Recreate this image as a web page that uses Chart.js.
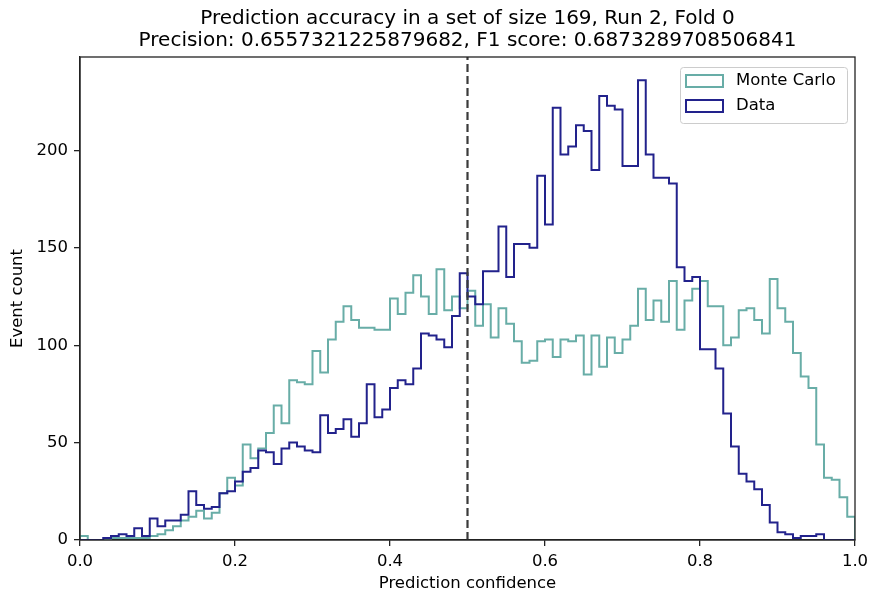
<!DOCTYPE html>
<html>
<head>
<meta charset="utf-8">
<title>Prediction accuracy</title>
<script src="https://cdn.jsdelivr.net/npm/chart.js@4.4.1/dist/chart.umd.min.js"></script>
<style>
  html, body { margin: 0; padding: 0; background: #fff; }
  #wrap { width: 871px; height: 596px; }
</style>
</head>
<body>
<div id="wrap"><canvas id="chart" width="871" height="596"></canvas></div>
<script>
const histMin = 0.0;
const histMax = 1.0;
const threshold = 0.5;
const yMax = 248;

const titleLines = [
  "Prediction accuracy in a set of size 169, Run 2, Fold 0",
  "Precision: 0.6557321225879682, F1 score: 0.6873289708506841",
];

const xTicks = [0.0, 0.2, 0.4, 0.6, 0.8, 1.0];
const yTicks = [0, 50, 100, 150, 200];

// counts per bin, 100 bins between 0 and 1
const monteCarloCounts = [
  2, 0, 0, 0, 1, 1, 1, 1, 1, 2,
  3, 5, 7, 10, 12, 15, 11, 14, 24, 32,
  28, 49, 42, 47, 55, 69, 60, 82, 81, 80,
  97, 86, 103, 112, 120, 113, 109, 109, 108, 108,
  124, 116, 127, 136, 125, 116, 139, 118, 125, 119,
  128, 110, 121, 104, 119, 111, 102, 91, 92, 102,
  103, 94, 103, 102, 105, 85, 105, 89, 104, 96,
  103, 110, 129, 113, 123, 112, 133, 108, 123, 129,
  133, 120, 120, 100, 104, 118, 119, 113, 106, 134,
  119, 112, 96, 84, 78, 49, 32, 31, 22, 12,
];

const dataCounts = [
  0, 0, 0, 1, 2, 3, 2, 6, 2, 11,
  7, 10, 10, 13, 25, 18, 16, 17, 24, 25,
  30, 35, 37, 46, 45, 39, 47, 50, 48, 46,
  45, 64, 55, 57, 62, 53, 60, 80, 63, 67,
  78, 82, 80, 88, 106, 105, 103, 99, 115, 137,
  125, 121, 138, 138, 161, 135, 152, 152, 150, 187,
  162, 222, 198, 202, 213, 210, 190, 228, 223, 221,
  192, 192, 236, 198, 186, 186, 183, 140, 133, 135,
  98, 98, 88, 65, 48, 34, 30, 26, 18, 9,
  4, 3, 1, 2, 2, 3, 0, 0, 0, 0,
];

const seriesNames = ["Monte Carlo", "Data"];
const seriesColors = ["#68ada7", "#22228c"];

const FONT = "'DejaVu Sans', 'Liberation Sans', sans-serif";

// outline of a step histogram: left edge of each bin, closed to zero at both ends
function stepOutline(counts) {
  const w = (histMax - histMin) / counts.length;
  const pts = [{ x: histMin, y: 0 }];
  counts.forEach((c, i) => pts.push({ x: histMin + i * w, y: c }));
  pts.push({ x: histMax, y: 0 });
  return pts;
}

const framePlugin = {
  id: "frame",
  afterDraw(chart) {
    const { ctx, chartArea: a } = chart;
    ctx.save();
    ctx.strokeStyle = "#222";
    ctx.lineWidth = 1.3;
    ctx.strokeRect(a.left, a.top, a.right - a.left, a.bottom - a.top);
    ctx.restore();
  },
};

const legendPlugin = {
  id: "boxLegend",
  afterDraw(chart) {
    const { ctx, chartArea: a } = chart;
    const boxW = 167, boxH = 56;
    const x = a.right - 8 - boxW;
    const y = a.top + 10;
    ctx.save();
    ctx.fillStyle = "rgba(255,255,255,0.85)";
    ctx.strokeStyle = "#cccccc";
    ctx.lineWidth = 1;
    ctx.beginPath();
    ctx.roundRect(x + 0.5, y + 0.5, boxW, boxH, 3);
    ctx.fill();
    ctx.stroke();
    ctx.font = "16.5px " + FONT;
    ctx.textBaseline = "middle";
    ctx.fillStyle = "#000";
    seriesNames.forEach((name, i) => {
      const cy = y + 14 + i * 25;
      ctx.strokeStyle = seriesColors[i];
      ctx.lineWidth = 2;
      ctx.strokeRect(x + 6, cy - 6, 37, 12);
      ctx.fillText(name, x + 56, cy);
    });
    ctx.restore();
  },
};

const ctx = document.getElementById("chart").getContext("2d");

new Chart(ctx, {
  type: "line",
  data: {
    datasets: [
      {
        label: "threshold",
        data: [{ x: threshold, y: 0 }, { x: threshold, y: yMax }],
        borderColor: "#3a3a3a",
        borderWidth: 2.2,
        borderDash: [8, 4],
        pointRadius: 0,
        order: 0,
      },
      {
        label: seriesNames[1],
        data: stepOutline(dataCounts),
        borderColor: seriesColors[1],
        backgroundColor: "rgba(0,0,0,0)",
        borderWidth: 2,
        stepped: true,
        pointRadius: 0,
        fill: false,
        order: 1,
      },
      {
        label: seriesNames[0],
        data: stepOutline(monteCarloCounts),
        borderColor: seriesColors[0],
        backgroundColor: "rgba(0,0,0,0)",
        borderWidth: 2,
        stepped: true,
        pointRadius: 0,
        fill: false,
        order: 2,
      },
    ],
  },
  options: {
    responsive: false,
    animation: false,
    events: [],
    layout: { padding: { left: 0, right: 16, top: 0, bottom: 0 } },
    plugins: {
      legend: { display: false },
      tooltip: { enabled: false },
      title: {
        display: true,
        fullSize: false,
        text: titleLines,
        color: "#000",
        font: { family: FONT, size: 20, weight: "normal", lineHeight: 1.1 },
        padding: { top: 8, bottom: 5 },
      },
    },
    scales: {
      x: {
        type: "linear",
        min: histMin,
        max: histMax,
        afterBuildTicks: (axis) => {
          axis.ticks = xTicks.map((v) => ({ value: v }));
        },
        afterFit: (axis) => {
          axis.height = 56;
          axis.paddingLeft = 0;
          axis.paddingRight = 0;
        },
        ticks: {
          callback: (v) => Number(v).toFixed(1),
          color: "#000",
          font: { family: FONT, size: 16.5 },
          padding: 6,
          maxRotation: 0,
        },
        grid: {
          display: true,
          drawOnChartArea: false,
          drawTicks: true,
          tickLength: 6,
          color: "#222",
          lineWidth: 1.3,
        },
        border: { display: true, color: "#222", width: 1.3 },
        title: {
          display: true,
          text: "Prediction confidence",
          color: "#000",
          font: { family: FONT, size: 16.5 },
          padding: { top: 0, bottom: 2 },
        },
      },
      y: {
        type: "linear",
        min: 0,
        max: yMax,
        afterBuildTicks: (axis) => {
          axis.ticks = yTicks.map((v) => ({ value: v }));
        },
        afterFit: (axis) => {
          axis.width = 80;
          axis.paddingTop = 0;
          axis.paddingBottom = 0;
        },
        ticks: {
          color: "#000",
          font: { family: FONT, size: 16.5 },
          padding: 6,
        },
        grid: {
          display: true,
          drawOnChartArea: false,
          drawTicks: true,
          tickLength: 6,
          color: "#222",
          lineWidth: 1.3,
        },
        border: { display: true, color: "#222", width: 1.3 },
        title: {
          display: true,
          text: "Event count",
          color: "#000",
          font: { family: FONT, size: 16.5 },
          padding: { top: 8, bottom: 0 },
        },
      },
    },
  },
  plugins: [framePlugin, legendPlugin],
});
</script>
</body>
</html>
